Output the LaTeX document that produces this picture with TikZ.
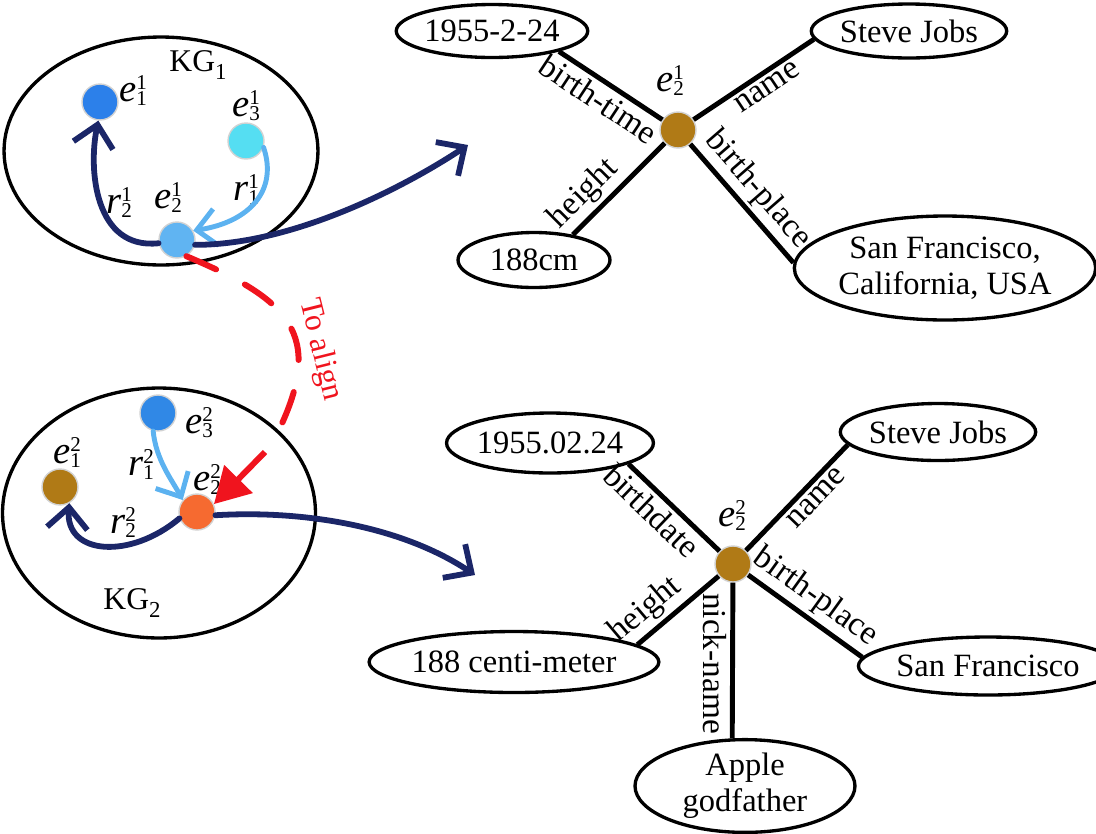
\documentclass[tikz,border=0pt]{standalone}
\usepackage{fontspec}
\setmainfont{Liberation Serif}
\usepackage{xcolor}
\usepackage{tikz}
\usetikzlibrary{arrows.meta}
\usetikzlibrary{shapes}
\usetikzlibrary{shapes.geometric}
\definecolor{navyline}{RGB}{27,38,104}
\definecolor{skyline}{RGB}{92,178,240}
\definecolor{alignred}{RGB}{240,20,30}
\definecolor{entbrown}{RGB}{176,122,22}
\definecolor{entblue}{RGB}{44,128,234}
\definecolor{entcyan}{RGB}{85,222,242}
\definecolor{entsky}{RGB}{96,180,242}
\definecolor{entorange}{RGB}{246,106,48}
\definecolor{entbluetwo}{RGB}{48,136,230}
\newcommand{\fsz}[2]{\fontsize{#1}{#2}\selectfont}
\newcommand{\esym}[3]{\textit{#1}\raisebox{-0.1em}{\fsz{12}{12}\begin{tabular}[b]{@{}l@{}}#3\\[-3pt]#2\end{tabular}}}
\tikzset{>=latex}
\tikzstyle{entity} = [circle, draw = gray!35, line width = 0.8pt, minimum size = 0.72cm, inner sep = 0pt]
\tikzstyle{attr} = [ellipse, draw = black, line width = 1.9pt, inner sep = 0pt, align = center, font = \fsz{18.5}{20.5}]
\tikzstyle{kgzone} = [ellipse, draw = black, line width = 1.9pt, inner sep = 0pt]
\tikzstyle{rel} = [-, draw = black, line width = 2.8pt]
\tikzstyle{rellabel} = [font = \fsz{19}{19}, inner sep = 2pt, sloped]
\tikzstyle{symlabel} = [font = \fsz{22}{22}, inner sep = 0pt]
\tikzstyle{kglabel} = [font = \fsz{18}{18}, inner sep = 0pt]
\tikzstyle{navyarr} = [-{Straight Barb[length=12pt, width=23pt]}, draw = navyline, line width = 3.3pt, line cap = round]
\tikzstyle{skyarr} = [-{Straight Barb[length=11pt, width=21pt]}, draw = skyline, line width = 2.8pt, line cap = round]
\tikzstyle{aligndash} = [-, draw = alignred, line width = 3.4pt, line cap = round, dash pattern = on 18.5pt off 18.5pt]
\tikzstyle{alignarr} = [-{Triangle[length=20pt, width=22pt]}, draw = alignred, line width = 3.4pt]

\begin{document}
\begin{tikzpicture}[x = 0.02cm, y = -0.02cm]
\useasboundingbox (0, 0) rectangle (1096, 833);

% the two knowledge graphs
\node [kgzone, minimum width = 6.28cm, minimum height = 4.56cm] (kg1) at (161, 151) {};
\node [kglabel] (kg1name) at (198, 65) {KG\raisebox{-0.25em}{\fsz{13}{13}1}};
\node [entity, fill = entblue] (e11) at (100, 102) {};
\node [entity, fill = entcyan] (e31) at (246, 141) {};
\node [entity, fill = entsky] (e21) at (177, 240) {};
\node [symlabel] (e11name) at (133, 93) {\esym{e}{1}{1}};
\node [symlabel] (e31name) at (246, 108) {\esym{e}{3}{1}};
\node [symlabel] (e21name) at (168, 200) {\esym{e}{2}{1}};
\node [symlabel] (r21name) at (119, 205) {\esym{r}{2}{1}};
\node [symlabel] (r11name) at (246, 192) {\esym{r}{1}{1}};
\draw [navyarr] (e21.190) .. controls (95, 250) and (88, 170) .. (e11.-95);
\draw [skyarr] (e31.-20) .. controls (278, 190) and (250, 222) .. (e21.30);

\node [kgzone, minimum width = 6.26cm, minimum height = 5cm] (kg2) at (159, 513) {};
\node [kglabel] (kg2name) at (132, 603) {KG\raisebox{-0.25em}{\fsz{13}{13}2}};
\node [entity, fill = entbrown] (e12) at (60, 487) {};
\node [entity, fill = entbluetwo] (e32) at (158, 413) {};
\node [entity, fill = entorange] (e22) at (197, 512) {};
\node [symlabel] (e12name) at (67, 455) {\esym{e}{1}{2}};
\node [symlabel] (e32name) at (199, 425) {\esym{e}{3}{2}};
\node [symlabel] (e22name) at (207, 482) {\esym{e}{2}{2}};
\node [symlabel] (r12name) at (141, 467) {\esym{r}{1}{2}};
\node [symlabel] (r22name) at (123, 525) {\esym{r}{2}{2}};
\draw [skyarr] (e32.-105) .. controls (156, 460) and (172, 480) .. (e22.140);
\draw [navyarr] (e22.200) .. controls (130, 560) and (65, 555) .. (e12.-60);

% alignment
\coordinate (gapend) at (278, 432);
\coordinate (gapstart) at (265, 452);
\draw [aligndash] (e21.-60) .. controls (288, 299) and (326, 333) .. (gapend);
\draw [alignarr] (gapstart) to (e22.25);
\node [rotate = -76, text = alignred, font = \fsz{18}{18}] (toalign) at (320, 350) {To align};

% first entity and its attributes
\node [entity, fill = entbrown] (c1) at (678, 130) {};
\node [symlabel] (c1name) at (670, 83) {\esym{e}{2}{1}};
\node [attr, minimum width = 3.4cm, minimum height = 1.06cm] (t1) at (492, 31) {1955-2-24};
\node [attr, minimum width = 3.36cm, minimum height = 1.08cm] (n1) at (909, 31) {Steve Jobs};
\node [attr, minimum width = 5.52cm, minimum height = 2.08cm] (p1) at (945, 268) {San Francisco,\\California, USA};
\node [attr, minimum width = 3.04cm, minimum height = 1.1cm] (h1) at (534, 260) {188cm};
\draw [rel] (c1) to node [rellabel, pos = 0.52, below] {birth-time} (t1.-17);
\draw [rel] (c1) to node [rellabel, pos = 0.55, below] {name} (n1.185);
\draw [rel] (c1) to node [rellabel, pos = 0.72, above] {height} (h1.33);
\draw [rel] (c1) to node [rellabel, pos = 0.5, above] {birth-place} (p1.178);
\coordinate (link1) at (468, 145);
\draw [navyarr] (e21.-15) .. controls (290, 245) and (400, 190) .. (link1);

% second entity and its attributes
\node [entity, fill = entbrown] (c2) at (733, 564) {};
\node [symlabel] (c2name) at (732, 518) {\esym{e}{2}{2}};
\node [attr, minimum width = 3.52cm, minimum height = 1.2cm] (t2) at (550, 443) {1955.02.24};
\node [attr, minimum width = 3.54cm, minimum height = 1.14cm] (n2) at (938, 432) {Steve Jobs};
\node [attr, minimum width = 4.18cm, minimum height = 1.16cm] (p2) at (988, 666) {San Francisco};
\node [attr, minimum width = 5.56cm, minimum height = 1.22cm] (h2) at (514, 662) {188 centi-meter};
\node [attr, minimum width = 4.4cm, minimum height = 1.8cm] (k2) at (745, 786) {Apple\\godfather};
\draw [rel] (c2) to node [rellabel, pos = 0.61, below] {birthdate} (t2.-15);
\draw [rel] (c2) to node [rellabel, pos = 0.59, below] {name} (n2.188);
\draw [rel] (c2) to node [rellabel, pos = 0.73, above] {height} (h2.8);
\draw [rel] (c2) to node [rellabel, pos = 0.48, above] {birth-place} (p2.176);
\draw [rel] (c2) to node [font = \fsz{19}{19}, inner sep = 2pt, pos = 0.52, rotate = -90, below] {nick-name} (k2.105);
\coordinate (link2) at (475, 575);
\draw [navyarr] (e22.-10) .. controls (300, 510) and (400, 525) .. (link2);
\end{tikzpicture}
\end{document}
